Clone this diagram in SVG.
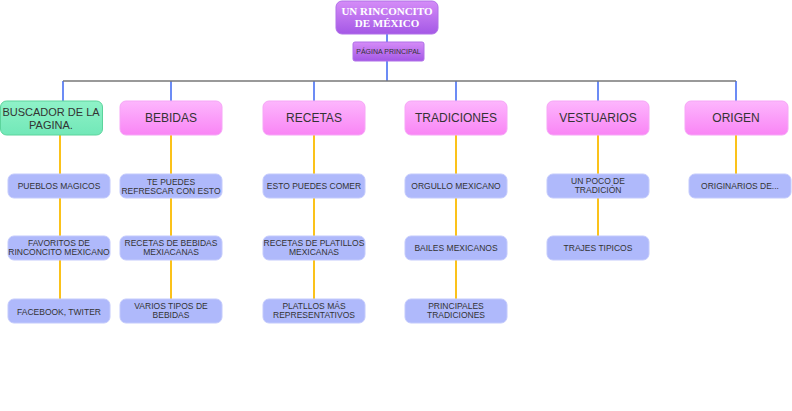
<svg xmlns="http://www.w3.org/2000/svg" width="792" height="411" viewBox="0 0 792 411">
<style>
.main{fill:url(#pink);stroke:#f6a6f6;stroke-width:1}
.sub{fill:#afb9fb;stroke:#c3cafc;stroke-width:1}
.t{font-family:"Liberation Sans",Arial,sans-serif;fill:#333;text-anchor:middle}
.mt{font-size:12px}
.st{font-size:8.5px}
.blue{stroke:#6c8cf5;stroke-width:2;fill:none}
.yel{stroke:#fbc21a;stroke-width:2;fill:none}
</style>
<defs>
<linearGradient id="pink" x1="0" y1="0" x2="0" y2="1"><stop offset="0" stop-color="#fdb6fd"/><stop offset="1" stop-color="#f985f5"/></linearGradient>
<linearGradient id="purp" x1="0" y1="0" x2="0" y2="1"><stop offset="0" stop-color="#d58cf7"/><stop offset="1" stop-color="#a458e6"/></linearGradient>
<linearGradient id="green" x1="0" y1="0" x2="0" y2="1"><stop offset="0" stop-color="#8ff2c8"/><stop offset="1" stop-color="#72e8b8"/></linearGradient>
</defs>
<g id="connectors">
<path class="blue" d="M387 34V42M387 61V81M63 81V101M171 81V101M314 81V101M456 81V101M598 81V101M736 81V101"/>
<path d="M63 81H736" stroke="#777" stroke-width="1.5"/>
<path class="yel" d="M60 135V299M171 135V299M314 135V299M456 135V299M598 135V236M736 135V174"/>
</g>
<g id="title"><rect x="336" y="1" width="102" height="33" rx="6" fill="url(#purp)" stroke="#b070e8"/>
<text x="387" y="15" font-family="Liberation Serif,serif" font-weight="bold" font-size="11" fill="#fff" text-anchor="middle">UN RINCONCITO</text>
<text x="387" y="27" font-family="Liberation Serif,serif" font-weight="bold" font-size="11" fill="#fff" text-anchor="middle">DE MÉXICO</text></g>
<g id="principal"><rect x="353" y="42" width="71" height="19" rx="2" fill="url(#purp)" stroke="#b070e8"/>
<text class="t" x="388.5" y="54" font-size="7">PÁGINA PRINCIPAL</text></g>
<g id="buscador"><rect x="0.5" y="101" width="102" height="34" rx="6" fill="url(#green)" stroke="#5cd49c"/>
<text class="t" font-size="11" x="51" y="116">BUSCADOR DE LA</text><text class="t" font-size="11" x="51" y="129">PAGINA.</text></g>
<g id="bebidas"><rect class="main" x="120" y="101" width="102" height="34" rx="6"/><text class="t mt" x="171" y="122">BEBIDAS</text></g>
<g id="recetas"><rect class="main" x="263" y="101" width="102" height="34" rx="6"/><text class="t mt" x="314" y="122">RECETAS</text></g>
<g id="tradiciones"><rect class="main" x="405" y="101" width="102" height="34" rx="6"/><text class="t mt" x="456" y="122">TRADICIONES</text></g>
<g id="vestuarios"><rect class="main" x="547" y="101" width="102" height="34" rx="6"/><text class="t mt" x="598" y="122">VESTUARIOS</text></g>
<g id="origen"><rect class="main" x="685" y="101" width="103" height="34" rx="6"/><text class="t mt" x="736" y="122">ORIGEN</text></g>
<g id="b1"><rect class="sub" x="8" y="174" width="102" height="24" rx="6"/><text class="t st" x="59" y="189">PUEBLOS MAGICOS</text></g>
<g id="b2"><rect class="sub" x="8" y="236" width="102" height="24" rx="6"/><text class="t st" x="59" y="246">FAVORITOS DE</text><text class="t st" x="59" y="255">RINCONCITO MEXICANO</text></g>
<g id="b3"><rect class="sub" x="8" y="299" width="102" height="24" rx="6"/><text class="t st" x="59" y="315">FACEBOOK, TWITER</text></g>
<g id="c1"><rect class="sub" x="120" y="174" width="102" height="24" rx="6"/><text class="t st" x="171" y="185">TE PUEDES</text><text class="t st" x="171" y="194">REFRESCAR CON ESTO</text></g>
<g id="c2"><rect class="sub" x="120" y="236" width="102" height="24" rx="6"/><text class="t st" x="171" y="246">RECETAS DE BEBIDAS</text><text class="t st" x="171" y="255">MEXIACANAS</text></g>
<g id="c3"><rect class="sub" x="120" y="299" width="102" height="24" rx="6"/><text class="t st" x="171" y="309">VARIOS TIPOS DE</text><text class="t st" x="171" y="318">BEBIDAS</text></g>
<g id="d1"><rect class="sub" x="263" y="174" width="102" height="24" rx="6"/><text class="t st" x="314" y="189">ESTO PUEDES COMER</text></g>
<g id="d2"><rect class="sub" x="263" y="236" width="102" height="24" rx="6"/><text class="t st" x="314" y="246">RECETAS DE PLATILLOS</text><text class="t st" x="314" y="255">MEXICANAS</text></g>
<g id="d3"><rect class="sub" x="263" y="299" width="102" height="24" rx="6"/><text class="t st" x="314" y="309">PLATLLOS MÁS</text><text class="t st" x="314" y="318">REPRESENTATIVOS</text></g>
<g id="e1"><rect class="sub" x="405" y="174" width="102" height="24" rx="6"/><text class="t st" x="456" y="189">ORGULLO MEXICANO</text></g>
<g id="e2"><rect class="sub" x="405" y="236" width="102" height="24" rx="6"/><text class="t st" x="456" y="251">BAILES MEXICANOS</text></g>
<g id="e3"><rect class="sub" x="405" y="299" width="102" height="24" rx="6"/><text class="t st" x="456" y="309">PRINCIPALES</text><text class="t st" x="456" y="318">TRADICIONES</text></g>
<g id="f1"><rect class="sub" x="547" y="174" width="102" height="24" rx="6"/><text class="t st" x="598" y="184">UN POCO DE</text><text class="t st" x="598" y="193">TRADICIÓN</text></g>
<g id="f2"><rect class="sub" x="547" y="236" width="102" height="24" rx="6"/><text class="t st" x="598" y="251">TRAJES TIPICOS</text></g>
<g id="g1"><rect class="sub" x="689" y="174" width="102" height="24" rx="6"/><text class="t st" x="740" y="189">ORIGINARIOS DE...</text></g>
</svg>
